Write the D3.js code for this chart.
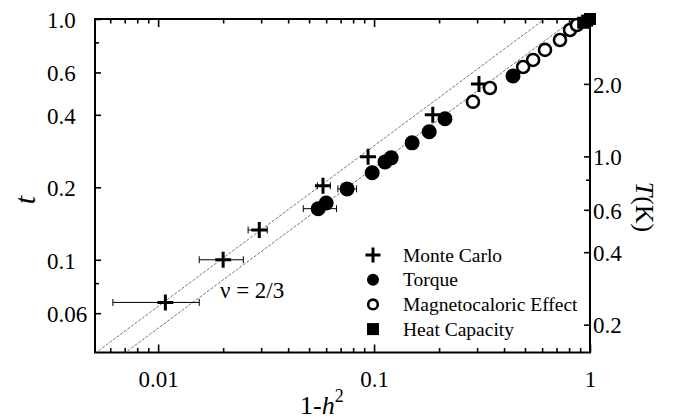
<!DOCTYPE html>
<html>
<head>
<meta charset="utf-8">
<script src="https://cdn.jsdelivr.net/npm/d3@7"></script>
<style>
  html, body { margin: 0; padding: 0; background: #fff; }
  svg { display: block; }
</style>
</head>
<body>
<svg id="chart" width="673" height="420" font-family="Liberation Serif, DejaVu Serif, serif"></svg>
<script>
// ---- data: reduced temperature t versus 1 - h^2 ----
const monteCarloU   = [0.0108, 0.0200, 0.0294, 0.058, 0.0938, 0.187, 0.306];
const monteCarloT   = [0.0665, 0.100, 0.133, 0.203, 0.268, 0.400, 0.537];
const monteCarloLo  = [0.00617, 0.0155, 0.0261, 0.0546, null, null, null];
const monteCarloHi  = [0.0155, 0.0248, 0.0320, 0.0627, null, null, null];

const torqueU  = [0.0551, 0.060, 0.075, 0.098, 0.1124, 0.120, 0.150, 0.180, 0.213, 0.440];
const torqueT  = [0.163, 0.172, 0.197, 0.230, 0.255, 0.265, 0.306, 0.340, 0.385, 0.580];
const torqueLo = [0.047, null, 0.068, null, null, null, null, null, null, null];
const torqueHi = [0.067, null, 0.083, null, null, null, null, null, null, null];

const mceU = [0.287, 0.344, 0.490, 0.545, 0.619, 0.726, 0.808, 0.870];
const mceT = [0.453, 0.517, 0.632, 0.676, 0.744, 0.818, 0.900, 0.944];

const heatU = [0.93, 0.97, 1.0];
const heatT = [0.965, 0.985, 1.0];

// power laws t = A (1 - h^2)^nu with nu = 2/3
const nu = 2 / 3;
const lawAmplitudes = [1.38, 1.12];

const Tc = 3.72; // K, sets the right-hand temperature axis

const xMajorTicks = [0.01, 0.1, 1];
const xMajorLabels = ["0.01", "0.1", "1"];
const xMinorTicks = [0.006, 0.007, 0.008, 0.009, 0.02, 0.03, 0.04, 0.05, 0.06, 0.07, 0.08, 0.09,
                     0.2, 0.3, 0.4, 0.5, 0.6, 0.7, 0.8, 0.9];
const tTicks = [1, 0.6, 0.4, 0.2, 0.1, 0.06];
const tLabels = ["1.0", "0.6", "0.4", "0.2", "0.1", "0.06"];
const tMinorTicks = [0.8, 0.08];
const kTicks = [2, 1, 0.6, 0.4, 0.2];
const kLabels = ["2.0", "1.0", "0.6", "0.4", "0.2"];
const kMinorTicks = [0.8];

const legendNames = ["Monte Carlo", "Torque", "Magnetocaloric Effect", "Heat Capacity"];

// ---- layout ----
const SERIF = "Liberation Serif, DejaVu Serif, serif";
const L = 95, R = 590, T = 19, B = 352.5;
const svg = d3.select("#chart");

const x = d3.scaleLog().domain([0.0051, 1]).range([L, R]);
const y = d3.scaleLog().domain([0.0412, 1]).range([B, T]);
const yK = d3.scaleLog().domain([0.0412 * Tc, Tc]).range([B, T]);

svg.append("clipPath").attr("id", "plotclip")
  .append("rect").attr("x", L).attr("y", T).attr("width", R - L).attr("height", B - T);

// ---- axes (ticks pointing into the frame) ----
function styleAxis(g) {
  g.attr("font-family", SERIF).attr("font-size", 23);
  g.select(".domain").remove();
  g.selectAll(".tick line").attr("stroke", "#000").attr("stroke-width", 1.6);
  g.selectAll(".tick text").attr("fill", "#000");
}

svg.append("g").attr("transform", `translate(0,${B})`)
  .call(d3.axisBottom(x).tickValues(xMajorTicks).tickSize(-8).tickPadding(18)
    .tickFormat((d, i) => xMajorLabels[i]))
  .call(styleAxis);
svg.append("g").attr("transform", `translate(0,${B})`)
  .call(d3.axisBottom(x).tickValues(xMinorTicks).tickSize(-4.5).tickFormat(""))
  .call(styleAxis);
svg.append("g").attr("transform", `translate(0,${T})`)
  .call(d3.axisTop(x).tickValues(xMajorTicks).tickSize(-8).tickFormat(""))
  .call(styleAxis);
svg.append("g").attr("transform", `translate(0,${T})`)
  .call(d3.axisTop(x).tickValues(xMinorTicks).tickSize(-4.5).tickFormat(""))
  .call(styleAxis);

const gLeft = svg.append("g").attr("transform", `translate(${L},0)`)
  .call(d3.axisLeft(y).tickValues(tTicks).tickSize(-6).tickFormat((d, i) => tLabels[i]))
  .call(styleAxis);
gLeft.selectAll(".tick text").attr("text-anchor", "start").attr("x", 47 - L).attr("dy", "0.36em");
svg.append("g").attr("transform", `translate(${L},0)`)
  .call(d3.axisLeft(y).tickValues(tMinorTicks).tickSize(-4).tickFormat(""))
  .call(styleAxis);

const gRight = svg.append("g").attr("transform", `translate(${R},0)`)
  .call(d3.axisRight(yK).tickValues(kTicks).tickSize(-6).tickFormat((d, i) => kLabels[i]))
  .call(styleAxis);
gRight.selectAll(".tick text").attr("text-anchor", "start").attr("x", 3).attr("dy", "0.36em");
svg.append("g").attr("transform", `translate(${R},0)`)
  .call(d3.axisRight(yK).tickValues(kMinorTicks).tickSize(-4).tickFormat(""))
  .call(styleAxis);

// frame
svg.append("rect").attr("x", L).attr("y", T).attr("width", R - L).attr("height", B - T)
  .attr("fill", "none").attr("stroke", "#000").attr("stroke-width", 2);

// ---- power-law guide lines ----
const uEnds = x.domain();
const lawLine = d3.line().x(d => x(d[0])).y(d => y(d[1]));
svg.append("g").attr("clip-path", "url(#plotclip)")
  .selectAll("path").data(lawAmplitudes).join("path")
  .attr("d", A => lawLine(uEnds.map(u => [u, A * Math.pow(u, nu)])))
  .attr("fill", "none").attr("stroke", "#666").attr("stroke-width", 0.9)
  .attr("stroke-dasharray", "3,1.5");

// ---- error bars ----
function errorBars(us, ts, lo, hi) {
  const g = svg.append("g").attr("stroke", "#000").attr("stroke-width", 1);
  us.forEach((u, i) => {
    if (lo[i] == null) return;
    const yy = y(ts[i]);
    g.append("line").attr("x1", x(lo[i])).attr("x2", x(hi[i])).attr("y1", yy).attr("y2", yy);
    [lo[i], hi[i]].forEach(v => g.append("line")
      .attr("x1", x(v)).attr("x2", x(v)).attr("y1", yy - 3.5).attr("y2", yy + 3.5));
  });
}
errorBars(monteCarloU, monteCarloT, monteCarloLo, monteCarloHi);
errorBars(torqueU, torqueT, torqueLo, torqueHi);

// ---- markers ----
function plusPath(cx, cy, s) {
  return `M${cx - s},${cy}H${cx + s}M${cx},${cy - s}V${cy + s}`;
}
svg.append("g").selectAll("path").data(monteCarloU).join("path")
  .attr("d", (u, i) => plusPath(x(u), y(monteCarloT[i]), 8))
  .attr("stroke", "#000").attr("stroke-width", 3).attr("fill", "none");

svg.append("g").selectAll("circle").data(torqueU).join("circle")
  .attr("cx", u => x(u)).attr("cy", (u, i) => y(torqueT[i])).attr("r", 7.5)
  .attr("fill", "#000");

svg.append("g").selectAll("circle").data(mceU).join("circle")
  .attr("cx", u => x(u)).attr("cy", (u, i) => y(mceT[i])).attr("r", 6)
  .attr("fill", "#fff").attr("stroke", "#000").attr("stroke-width", 2.6);

svg.append("g").selectAll("rect").data(heatU).join("rect")
  .attr("x", u => x(u) - 6).attr("y", (u, i) => y(heatT[i]) - 6)
  .attr("width", 12).attr("height", 12).attr("fill", "#000");

// ---- legend ----
const legendX = 373, legendY0 = 255, legendDy = 24.7;
const lg = svg.append("g").attr("font-size", 19.5);
legendNames.forEach((name, i) => {
  const cy = legendY0 + i * legendDy;
  if (i === 0) lg.append("path").attr("d", plusPath(legendX, cy, 7.5))
    .attr("stroke", "#000").attr("stroke-width", 3);
  if (i === 1) lg.append("circle").attr("cx", legendX).attr("cy", cy).attr("r", 6).attr("fill", "#000");
  if (i === 2) lg.append("circle").attr("cx", legendX).attr("cy", cy).attr("r", 4.8)
    .attr("fill", "#fff").attr("stroke", "#000").attr("stroke-width", 2.6);
  if (i === 3) lg.append("rect").attr("x", legendX - 6).attr("y", cy - 6)
    .attr("width", 12).attr("height", 12).attr("fill", "#000");
  lg.append("text").attr("x", 403).attr("y", cy + 6.5).text(name);
});

// exponent annotation
svg.append("text").attr("x", 220).attr("y", 298).attr("font-size", 23).text("ν = 2/3");

// ---- axis titles ----
svg.append("text").attr("transform", "translate(35,200) rotate(-90)")
  .attr("text-anchor", "middle").attr("font-size", 30).attr("font-style", "italic").text("t");

const tk = svg.append("text").attr("transform", "translate(636,207) rotate(90)")
  .attr("text-anchor", "middle").attr("font-size", 26);
tk.append("tspan").attr("font-style", "italic").text("T");
tk.append("tspan").text("(K)");

const xl = svg.append("text").attr("x", 300).attr("y", 414).attr("font-size", 26);
xl.append("tspan").text("1-");
xl.append("tspan").attr("font-style", "italic").text("h");
xl.append("tspan").attr("dy", -12).attr("font-size", 18).text("2");
</script>
</body>
</html>
